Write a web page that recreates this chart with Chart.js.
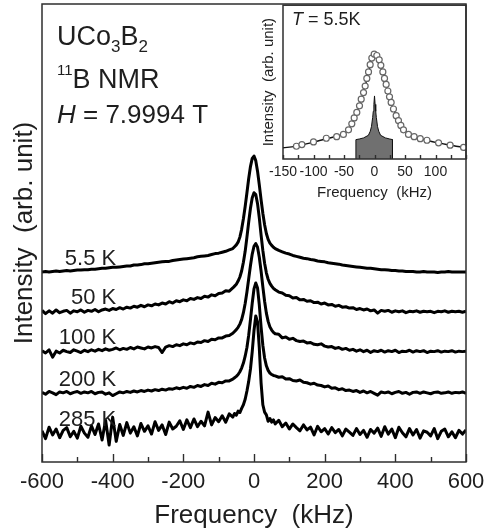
<!DOCTYPE html>
<html><head><meta charset="utf-8">
<script src="https://cdn.jsdelivr.net/npm/chart.js@4.4.1/dist/chart.umd.min.js"></script>
<style>
html,body{margin:0;padding:0;background:#fff;}
#wrap{position:relative;width:485px;height:529px;overflow:hidden;background:#fff;}
#main{position:absolute;left:0;top:0;width:485px;height:529px;}
#inset{position:absolute;left:250px;top:0;width:235px;height:205px;}
</style></head><body>
<div id="wrap"><canvas id="main" width="485" height="529"></canvas><canvas id="inset" width="235" height="205"></canvas></div>
<script>
// ---------- main panel data ----------
const temperatures = ['5.5 K', '50 K', '100 K', '200 K', '285 K'];
// vertical stacking offset of each spectrum (arb. units)
const offsets = [41.5, 32.8, 24.1, 15.1, 6.3];

// frequency axis (kHz)
const freq = [
  -600,-590,-580,-570,-560,-550,-540,-530,-520,-510,
  -500,-490,-480,-470,-460,-450,-440,-430,-420,-410,
  -400,-390,-380,-370,-360,-350,-340,-330,-320,-310,
  -300,-290,-280,-270,-260,-250,-240,-230,-220,-210,
  -200,-190,-180,-170,-160,-150,-140,-130,-120,-110,
  -100,-90,-80,-70,-60,
  -55,-50,-45,-40,-35,-30,-25,-20,-15,-10,-5, 0, 5,10,15,20,25,30,35,40,45,50,55,
  60,70,80,90,100,
  110,120,130,140,150,160,170,180,190,200,
  210,220,230,240,250,260,270,280,290,300,
  310,320,330,340,350,360,370,380,390,400,
  410,420,430,440,450,460,470,480,490,500,
  510,520,530,540,550,560,570,580,590,600
];

const spec5K = [
  0.0,0.1,0.0,0.1,0.2,0.1,0.2,0.3,0.2,0.3,
  0.4,0.4,0.5,0.5,0.6,0.6,0.7,0.8,0.8,0.9,
  1.0,1.0,1.1,1.2,1.3,1.3,1.5,1.5,1.6,1.8,
  1.8,1.9,2.0,2.1,2.2,2.3,2.3,2.5,2.6,2.7,
  2.8,2.9,3.0,3.1,3.3,3.4,3.5,3.6,3.8,4.0,
  4.1,4.3,4.5,4.8,5.1,
  5.5,5.9,6.5,7.6,9.3,11.6,14.3,17.3,20.4,23.0,24.8, 25.3, 24.3,22.0,19.0,15.8,12.8,10.3,8.4,7.1,6.3,5.8,5.4,
  5.1,4.7,4.4,4.1,3.9,
  3.6,3.4,3.2,3.0,2.9,2.7,2.6,2.4,2.3,2.2,
  2.0,1.9,1.8,1.7,1.5,1.4,1.3,1.2,1.1,1.0,
  0.9,0.8,0.8,0.7,0.6,0.5,0.5,0.4,0.3,0.3,
  0.2,0.2,0.1,0.1,0.1,0.0,0.0,0.1,0.0,0.0,
  0.0,-0.1,0.0,0.0,0.1,0.0,0.0,0.0,0.0,0.0
];
const spec50K = [
  0.3,-0.4,0.2,-0.3,0.4,-0.2,0.1,0.3,-0.3,0.2,
  0.0,0.4,-0.1,0.3,0.1,0.5,0.0,0.4,0.6,0.3,
  0.7,0.5,0.9,0.6,1.0,0.8,1.2,1.0,1.4,1.1,
  1.5,1.3,1.7,1.5,1.9,1.7,2.2,1.9,2.4,2.2,
  2.6,2.4,2.9,2.7,3.1,2.9,3.4,3.2,3.7,3.5,
  4.0,4.1,4.6,4.5,5.2,
  5.6,6.0,6.7,7.6,8.9,10.8,13.2,16.3,19.6,22.6,24.9, 26.0, 25.6,23.6,20.5,16.8,13.4,10.6,8.5,7.1,6.2,5.6,5.1,
  4.8,4.3,4.1,3.6,3.5,
  3.0,3.1,2.6,2.7,2.3,2.4,2.0,2.1,1.7,1.9,
  1.5,1.6,1.2,1.4,1.0,1.1,0.8,0.9,0.5,0.7,
  0.4,0.6,0.2,0.4,-0.3,0.3,0.1,0.3,-0.1,0.2,
  0.0,0.2,-0.2,0.1,0.0,0.2,-0.1,0.1,0.0,0.1,
  -0.2,0.1,0.0,0.2,-0.1,0.1,0.0,0.1,-0.1,0.1
];
const spec100K = [
  0.2,-0.3,0.4,-1.2,0.1,-0.3,0.3,0.0,-0.2,0.4,
  0.1,-0.2,0.3,0.0,0.4,0.1,0.5,0.2,0.6,0.3,
  0.5,0.8,0.4,0.7,0.5,0.9,0.6,1.0,0.8,0.6,
  1.0,0.8,1.1,0.9,-0.2,1.0,1.3,1.1,1.5,1.3,
  1.7,1.5,1.9,1.7,2.1,2.0,2.4,2.2,2.7,2.6,
  3.0,3.0,3.4,3.5,4.0,
  4.4,4.8,5.3,6.0,7.0,8.5,10.5,13.0,15.9,18.8,21.3, 23.0, 23.6,22.8,20.6,17.6,14.2,11.0,8.4,6.6,5.4,4.7,4.2,
  3.9,3.8,3.0,3.2,2.7,
  2.9,2.4,2.2,2.3,1.9,2.0,1.6,1.5,1.7,1.2,
  1.0,1.1,0.7,0.9,0.5,0.7,0.3,0.5,0.1,0.4,
  0.0,0.3,-0.2,0.2,0.0,0.3,-0.1,0.2,0.0,0.3,
  -0.2,0.1,0.0,0.3,-0.1,0.2,0.0,0.2,-0.2,0.1,
  0.0,0.2,-0.1,0.1,0.0,0.2,-0.1,0.1,0.0,0.1
];
const spec200K = [
  0.1,-0.3,0.3,0.0,-0.4,0.2,0.0,0.3,-0.2,0.1,
  0.3,-0.1,0.2,0.0,0.3,-0.2,0.1,0.2,-0.3,0.0,
  -0.6,-0.2,0.2,0.0,0.3,0.1,0.4,0.2,0.5,0.3,
  0.6,0.4,0.7,0.5,0.8,0.6,0.9,0.8,1.1,0.9,
  1.2,1.0,1.4,1.2,1.6,1.4,1.8,1.6,2.1,1.9,
  2.3,2.2,2.6,2.6,3.0,
  3.3,3.6,4.0,4.6,5.4,6.5,8.0,9.9,12.6,16.0,19.6, 22.7, 24.0,22.9,19.2,14.4,10.4,7.6,5.9,4.9,4.3,4.0,3.8,
  3.7,3.4,3.5,3.0,3.1,
  2.7,2.6,2.8,2.3,2.2,1.9,2.1,1.7,1.6,1.3,
  1.5,1.0,1.1,0.7,0.9,0.5,0.6,0.3,0.5,0.1,
  0.4,0.0,0.3,-0.1,-0.5,0.2,0.0,0.2,-0.2,0.1,
  0.3,-0.1,0.1,-0.3,0.1,0.2,-0.1,0.2,0.0,-0.2,
  0.1,0.2,-0.1,0.0,0.2,-0.1,0.1,0.0,0.2,-0.1
];
const spec285K = [
  0.5,-1.2,1.3,-0.4,0.9,-1.0,0.6,1.2,-0.8,0.4,
  -1.1,1.5,0.0,-0.9,1.6,-0.3,2.0,-1.5,2.8,-2.6,
  3.5,-1.8,1.9,-0.5,2.3,0.0,1.4,-0.6,2.1,0.4,
  1.6,-0.2,2.5,0.6,1.8,-0.3,2.4,0.9,1.5,2.7,
  0.8,2.9,1.2,3.1,1.4,2.6,1.6,4.6,1.8,3.4,
  2.5,3.8,2.4,4.2,3.5,
  4.3,3.9,4.8,4.5,5.4,6.2,7.4,9.2,11.3,14.0,17.8, 22.4, 25.6,24.3,18.6,11.0,6.2,4.6,4.0,2.6,3.2,2.4,2.9,
  2.0,2.8,1.4,2.2,0.9,
  2.0,1.2,0.5,1.8,0.7,1.3,-0.4,1.5,0.3,1.0,
  -0.2,1.2,0.1,0.8,-0.6,0.9,0.2,-0.5,1.0,-0.3,
  0.6,-0.9,0.8,0.0,1.1,-0.7,1.4,-0.2,0.9,-1.0,
  1.3,0.1,-0.8,1.0,-0.4,0.8,-1.1,0.5,0.2,-0.6,
  1.0,-1.2,0.4,0.9,-0.8,0.3,-1.0,0.6,-0.2,0.7
];
const spectra = [spec5K, spec50K, spec100K, spec200K, spec285K];
const mainTicks = [-600, -400, -200, 0, 200, 400, 600];

// ---------- inset data (T = 5.5 K) ----------
const insetCircleFreq = [-128,-119,-100,-79,-62,-51,-42.6,-37.2,-33.3,-29,-24.6,-21.8,-18,-15.3,-12.6,-9.8,-7.1,-4.4,-0.5,3.8,
  7.7,10.4,13.7,16.4,19.1,21.9,24.6,27.3,31.1,35.5,39.3,43.2,47.5,55.7,65,75,86,105,124,146];
const insetCircleVal = [8.3,9.4,11.1,13.5,14.5,16.0,19.0,22.9,26.7,30.3,34.6,38.9,43.2,47.4,52.4,56.6,61.3,65.6,68.2,67.3,
  64.5,60.9,56.6,52.4,48.5,44.2,40.4,36.8,32.5,28.2,25.0,21.8,19.0,16.0,14.5,13.2,12.2,10.5,9.0,7.5];
const insetFitFreq = [-150,-130,-110,-90,-70,-60,-50,-45,-40,-35,-30,-25,-20,-15,-10,-5,0,5,10,15,20,25,30,35,40,45,50,60,70,80,90,100,120,140,150];
const insetFitVal = [7.3,8.2,10.0,12.0,14.0,15.0,16.4,18.0,20.6,24.2,29.2,34.3,40.6,47.8,55.9,63.5,68.4,67.0,61.3,54.6,
  47.3,40.0,33.6,28.4,24.6,21.0,18.3,15.3,13.9,12.7,11.7,10.8,9.3,8.0,7.4];
const powderFreq = [-30.5,-30.5,-25,-18,-10,-7,-5,-3,-2,-1,0,1,2,3,5,7,10,18,25,29.5,29.5];
const powderVal = [0,12.6,13.0,13.7,15.4,18.0,21.0,27.0,31.0,35.5,41.0,35.5,31.0,27.0,21.0,18.0,15.4,13.7,13.0,12.6,0];
const insetTicks = [-150, -100, -50, 0, 50, 100];

// ---------- styling ----------
const FONT = "'Liberation Sans', Arial, Helvetica, sans-serif";
const INK = '#1e1e1e';
const FRAME = '#2e2e2e';
const labelFreq = -390;   // right edge of curve labels (kHz)
const labelRise = 1.6;    // label baseline above each spectrum baseline

function drawRuns(ctx, x, y, runs) {
  let cx = x;
  for (const r of runs) {
    ctx.font = (r.italic ? 'italic ' : '') + r.size + 'px ' + FONT;
    ctx.fillText(r.t, cx, y + (r.dy || 0));
    cx += ctx.measureText(r.t).width;
  }
}

function drawFrameAndTicks(chart, minorStep, majorStep, minorLen, majorLen) {
  const {ctx, chartArea: a, scales: {x}} = chart;
  ctx.save();
  ctx.strokeStyle = FRAME;
  ctx.lineWidth = 1.4;
  for (let v = x.min; v <= x.max + 1e-9; v += minorStep) {
    const px = Math.round(x.getPixelForValue(v)) + 0.5;
    const isMajor = Math.abs(v / majorStep - Math.round(v / majorStep)) < 1e-6;
    const len = isMajor ? majorLen : minorLen;
    ctx.beginPath();
    ctx.moveTo(px, a.bottom);
    ctx.lineTo(px, a.bottom - len);
    ctx.stroke();
  }
  ctx.lineWidth = 1.5;
  ctx.strokeRect(a.left, a.top, a.right - a.left, a.bottom - a.top);
  ctx.restore();
}

const mainDeco = {
  id: 'mainDeco',
  afterDatasetsDraw(chart) {
    const {ctx, scales: {x, y}} = chart;
    drawFrameAndTicks(chart, 100, 200, 5, 8);
    ctx.save();
    ctx.fillStyle = INK;
    ctx.textBaseline = 'alphabetic';
    ctx.textAlign = 'left';
    // sample annotation
    drawRuns(ctx, 57, 45, [{t:'UCo', size:27}, {t:'3', size:17, dy:7}, {t:'B', size:27}, {t:'2', size:17, dy:7}]);
    drawRuns(ctx, 57, 88, [{t:'11', size:15, dy:-13}, {t:'B NMR', size:27}]);
    drawRuns(ctx, 57, 123, [{t:'H', size:26, italic:true}, {t:' = 7.9994 T', size:26}]);
    // curve labels
    ctx.font = '22px ' + FONT;
    ctx.textAlign = 'right';
    temperatures.forEach((t, i) => {
      ctx.fillText(t, x.getPixelForValue(labelFreq), y.getPixelForValue(offsets[i] + labelRise));
    });
    ctx.restore();
  }
};

Chart.defaults.font.family = FONT;
Chart.defaults.color = INK;

new Chart(document.getElementById('main'), {
  type: 'line',
  data: {
    datasets: temperatures.map((t, i) => ({
      label: t,
      data: freq.map((f, j) => ({x: f, y: offsets[i] + spectra[i][j]})),
      borderColor: '#000',
      borderWidth: 3,
      borderJoinStyle: 'round',
      pointRadius: 0,
      tension: 0,
      fill: false
    }))
  },
  options: {
    responsive: false,
    animation: false,
    devicePixelRatio: 1,
    layout: {padding: {left: 0, right: 19, top: 4, bottom: 0}},
    plugins: {legend: {display: false}, tooltip: {enabled: false}},
    scales: {
      x: {
        type: 'linear', min: -600, max: 600,
        afterBuildTicks: (s) => { s.ticks = mainTicks.map(v => ({value: v})); },
        ticks: {font: {size: 22}, color: INK, padding: 7, maxRotation: 0, autoSkip: false},
        grid: {display: false, drawTicks: false},
        border: {display: false},
        title: {display: true, text: 'Frequency  (kHz)', color: INK, font: {size: 26, lineHeight: 1}, padding: {top: 0, bottom: 0}},
        afterFit: (s) => { s.height = 67; s.paddingLeft = 0; s.paddingRight = 0; }
      },
      y: {
        type: 'linear', min: 0, max: 100,
        ticks: {display: false},
        grid: {display: false, drawTicks: false},
        border: {display: false},
        title: {display: true, text: 'Intensity  (arb. unit)', color: INK, font: {size: 26, lineHeight: 1}, padding: {top: 12, bottom: 0}},
        afterFit: (s) => { s.width = 42; s.paddingTop = 0; s.paddingBottom = 0; }
      }
    }
  },
  plugins: [mainDeco]
});

const insetDeco = {
  id: 'insetDeco',
  afterDatasetsDraw(chart) {
    const {ctx, chartArea: a} = chart;
    drawFrameAndTicks(chart, 25, 50, 4, 4);
    ctx.save();
    ctx.fillStyle = INK;
    ctx.textBaseline = 'alphabetic';
    ctx.textAlign = 'left';
    drawRuns(ctx, a.left + 9, 25, [{t:'T', size:18, italic:true}, {t:' = 5.5K', size:18}]);
    ctx.restore();
  }
};

new Chart(document.getElementById('inset'), {
  type: 'line',
  data: {
    datasets: [
      {
        label: 'calc', order: 2,
        data: powderFreq.map((f, i) => ({x: f, y: powderVal[i]})),
        borderColor: '#111', borderWidth: 1, backgroundColor: '#707070',
        fill: 'origin', pointRadius: 0, tension: 0
      },
      {
        label: 'fit', order: 1,
        data: insetFitFreq.map((f, i) => ({x: f, y: insetFitVal[i]})),
        borderColor: '#111', borderWidth: 1.4, pointRadius: 0,
        cubicInterpolationMode: 'monotone', fill: false
      },
      {
        label: 'data', order: 0,
        data: insetCircleFreq.map((f, i) => ({x: f, y: insetCircleVal[i]})),
        showLine: false, pointRadius: 3, pointBorderWidth: 1.2,
        pointBorderColor: '#666', pointBackgroundColor: '#fff'
      }
    ]
  },
  options: {
    responsive: false,
    animation: false,
    devicePixelRatio: 1,
    layout: {padding: {left: 0, right: 19, top: 4, bottom: 0}},
    plugins: {legend: {display: false}, tooltip: {enabled: false}},
    scales: {
      x: {
        type: 'linear', min: -150, max: 150,
        afterBuildTicks: (s) => { s.ticks = insetTicks.map(v => ({value: v})); },
        ticks: {font: {size: 14}, color: INK, padding: 5, maxRotation: 0, autoSkip: false},
        grid: {display: false, drawTicks: false},
        border: {display: false},
        title: {display: true, text: 'Frequency  (kHz)', color: INK, font: {size: 15, lineHeight: 1}, padding: {top: 0, bottom: 5}},
        afterFit: (s) => { s.height = 46; s.paddingLeft = 0; s.paddingRight = 0; }
      },
      y: {
        type: 'linear', min: 0, max: 100,
        ticks: {display: false},
        grid: {display: false, drawTicks: false},
        border: {display: false},
        title: {display: true, text: 'Intensity  (arb. unit)', color: INK, font: {size: 15, lineHeight: 1}, padding: {top: 11, bottom: 0}},
        afterFit: (s) => { s.width = 33; s.paddingTop = 0; s.paddingBottom = 0; }
      }
    }
  },
  plugins: [insetDeco]
});
</script>
</body></html>
